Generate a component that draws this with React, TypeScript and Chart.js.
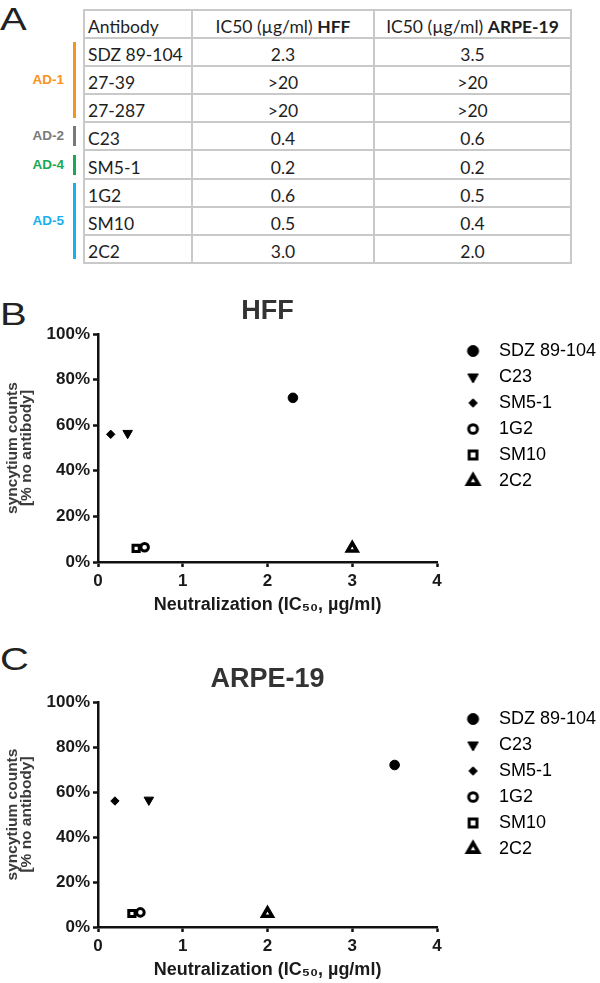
import React, { useEffect, useRef } from 'react';
import { Chart, registerables } from 'chart.js';
import { drawPoint } from 'chart.js/helpers';

Chart.register(...registerables);

// ---------- Panel A table data ----------
const antibodies = ['SDZ 89-104', '27-39', '27-287', 'C23', 'SM5-1', '1G2', 'SM10', '2C2'];
const ic50HFF = ['2.3', '>20', '>20', '0.4', '0.2', '0.6', '0.5', '3.0'];
const ic50ARPE = ['3.5', '>20', '>20', '0.6', '0.2', '0.5', '0.4', '2.0'];
const groupLabels = ['AD-1', 'AD-2', 'AD-4', 'AD-5'];
const groupFirstRow = [0, 3, 4, 5];
const groupLastRow = [2, 3, 4, 7];
const groupColors = ['#f7941d', '#7a7a7a', '#1aa855', '#1ab0ec'];

// ---------- Panels B / C data ----------
const seriesLabels = ['SDZ 89-104', 'C23', 'SM5-1', '1G2', 'SM10', '2C2'];
const hffX = [2.3, 0.35, 0.15, 0.55, 0.45, 3.0];
const hffY = [72, 56.5, 56, 6.5, 6, 6];
const arpeX = [3.5, 0.6, 0.2, 0.5, 0.4, 2.0];
const arpeY = [72, 56.5, 56, 6.5, 6, 6];
const xTicks = [0, 1, 2, 3, 4];
const yTicks = [0, 20, 40, 60, 80, 100];

// marker styles (styling only)
const markerStyles = [
  { pointStyle: 'circle', radius: 4.8, rotation: 0, filled: true, borderWidth: 1, legendScale: 1.15 },
  { pointStyle: 'triangle', radius: 5.5, rotation: 180, filled: true, borderWidth: 1, legendScale: 1.1 },
  { pointStyle: 'rectRot', radius: 4.2, rotation: 0, filled: true, borderWidth: 1, legendScale: 1.0 },
  { pointStyle: 'circle', radius: 3.8, rotation: 0, filled: false, borderWidth: 3, legendScale: 1.15 },
  { pointStyle: 'rect', radius: 4.4, rotation: 0, filled: false, borderWidth: 3, legendScale: 1.25 },
  { pointStyle: 'triangle', radius: 5.4, rotation: 0, filled: false, borderWidth: 3.6, legendScale: 1.15 },
];

const FONT = '"Liberation Sans", Arial, sans-serif';

function makeLegendMarker(st: any, offsetX: number) {
  const c = document.createElement('canvas');
  c.width = 40;
  c.height = 20;
  const ctx = c.getContext('2d') as CanvasRenderingContext2D;
  ctx.fillStyle = st.filled ? '#000' : '#fff';
  ctx.strokeStyle = '#000';
  ctx.lineWidth = st.borderWidth;
  drawPoint(ctx, { pointStyle: st.pointStyle, radius: st.radius * st.legendScale, rotation: st.rotation, borderWidth: st.borderWidth }, 20 + offsetX, 10);
  return c;
}

// let the legend box run to the canvas edge so its labels are not clipped
const widenLegend = {
  id: 'widenLegend',
  afterLayout(chart: any) {
    const lg = chart.legend;
    if (lg) {
      lg.right = chart.width;
      lg.width = lg.right - lg.left;
    }
  },
};

function makeConfig(title: string, xs: number[], ys: number[], xScaleHeight: number): any {
  const legendMarkers = markerStyles.map((st) => makeLegendMarker(st, 5.5));
  return {
    type: 'scatter',
    data: {
      datasets: seriesLabels.map((label, i) => {
        const st = markerStyles[i];
        return {
          label,
          data: [{ x: xs[i], y: ys[i] }],
          pointStyle: st.pointStyle,
          pointRadius: st.radius,
          pointRotation: st.rotation,
          pointBackgroundColor: st.filled ? '#000' : '#fff',
          pointBorderColor: '#000',
          pointBorderWidth: st.borderWidth,
        };
      }),
    },
    plugins: [widenLegend],
    options: {
      animation: false,
      responsive: false,
      devicePixelRatio: 1,
      layout: { padding: { left: 0, right: 17.33, top: 0, bottom: 0 } },
      scales: {
        x: {
          type: 'linear',
          min: 0,
          max: 4,
          afterBuildTicks: (s: any) => {
            s.ticks = xTicks.map((v) => ({ value: v }));
          },
          afterFit: (s: any) => {
            s.height = xScaleHeight;
          },
          ticks: {
            font: { family: FONT, size: 17, weight: 'bold' },
            color: '#1a1a1a',
            padding: 4,
            maxRotation: 0,
          },
          grid: { display: true, drawOnChartArea: false, drawTicks: true, tickLength: 5, tickWidth: 2.5, tickColor: '#111' },
          border: { display: true, color: '#111', width: 2.5 },
          title: {
            display: true,
            text: 'Neutralization (IC\u2085\u2080, \u00b5g/ml)',
            font: { family: FONT, size: 18, weight: 'bold' },
            color: '#1a1a1a',
            padding: { top: 0, bottom: 0 },
          },
        },
        y: {
          type: 'linear',
          min: 0,
          max: 100,
          afterBuildTicks: (s: any) => {
            s.ticks = yTicks.map((v) => ({ value: v }));
          },
          afterFit: (s: any) => {
            s.width = 98;
          },
          ticks: {
            font: { family: FONT, size: 17, weight: 'bold' },
            color: '#1a1a1a',
            padding: 3,
            callback: (v: any) => v + '%',
          },
          grid: { display: true, drawOnChartArea: false, drawTicks: true, tickLength: 5, tickWidth: 2.5, tickColor: '#111' },
          border: { display: true, color: '#111', width: 2.5 },
          title: {
            display: true,
            text: ['syncytium counts', '[% no antibody]'],
            font: { family: FONT, size: 15.5, weight: 'bold', lineHeight: '14px' },
            color: '#3a3a3a',
            padding: { top: 6, bottom: 0 },
          },
        },
      },
      plugins: {
        tooltip: { enabled: false },
        title: {
          display: true,
          text: title,
          fullSize: false,
          font: { family: FONT, size: 27, weight: 'bold' },
          color: '#333',
          padding: { top: 15.5, bottom: 6.1 },
        },
        legend: {
          display: true,
          position: 'right',
          align: 'start',
          fullSize: false,
          labels: {
            usePointStyle: true,
            pointStyleWidth: 45,
            padding: 8,
            font: { family: FONT, size: 18 },
            color: '#111',
            generateLabels: (chart: any) =>
              chart.data.datasets.map((ds: any, i: number) => ({
                text: ds.label,
                pointStyle: legendMarkers[i],
                rotation: 0,
                fillStyle: '#000',
                strokeStyle: '#000',
                lineWidth: 0,
                hidden: false,
                datasetIndex: i,
              })),
          },
        },
      },
    },
  };
}

const letterStyle = (top: number): React.CSSProperties => ({
  position: 'absolute',
  left: 0,
  top,
  fontFamily: FONT,
  fontSize: 32,
  lineHeight: '32px',
  color: '#222',
  transform: 'scaleX(1.25)',
  transformOrigin: 'left top',
});

const TABLE_TOP = 10;
const HEADER_H = 27.7;
const ROW_H = 28.2;

export default function App() {
  const refB = useRef<HTMLCanvasElement>(null);
  const refC = useRef<HTMLCanvasElement>(null);

  useEffect(() => {
    const cb = new Chart(refB.current as HTMLCanvasElement, makeConfig('HFF', hffX, hffY, 54));
    const cc = new Chart(refC.current as HTMLCanvasElement, makeConfig('ARPE-19', arpeX, arpeY, 54));
    return () => {
      cb.destroy();
      cc.destroy();
    };
  }, []);

  const cellBase: React.CSSProperties = {
    border: '2px solid #c9c9c9',
    padding: '0 3px',
    verticalAlign: 'bottom',
    fontWeight: 'normal',
    whiteSpace: 'nowrap',
    overflow: 'hidden',
  };

  return (
    <div style={{ position: 'absolute', left: 0, top: 0, width: 600, height: 983, background: '#fff', overflow: 'hidden' }}>
      <div style={letterStyle(2.5)}>A</div>
      <div style={letterStyle(297.5)}>B</div>
      <div style={letterStyle(642.5)}>C</div>

      <table
        style={{
          position: 'absolute',
          left: 83,
          top: TABLE_TOP - 1,
          width: 487,
          borderCollapse: 'collapse',
          tableLayout: 'fixed',
          fontFamily: 'Lato, "Open Sans", sans-serif',
          fontSize: 17.5,
          color: '#1e1e1e',
        }}
      >
        <colgroup>
          <col style={{ width: 108 }} />
          <col style={{ width: 182 }} />
          <col style={{ width: 197 }} />
        </colgroup>
        <thead>
          <tr style={{ height: HEADER_H }}>
            <th style={{ ...cellBase, textAlign: 'left' }}>Antibody</th>
            <th style={{ ...cellBase, textAlign: 'center' }}>
              IC50 (µg/ml) <b style={{ fontWeight: 'bold' }}>HFF</b>
            </th>
            <th style={{ ...cellBase, textAlign: 'center' }}>
              IC50 (µg/ml) <b style={{ fontWeight: 'bold' }}>ARPE-19</b>
            </th>
          </tr>
        </thead>
        <tbody>
          {antibodies.map((ab, i) => (
            <tr key={ab} style={{ height: ROW_H }}>
              <td style={{ ...cellBase, textAlign: 'left' }}>{ab}</td>
              <td style={{ ...cellBase, textAlign: 'center' }}>{ic50HFF[i]}</td>
              <td style={{ ...cellBase, textAlign: 'center' }}>{ic50ARPE[i]}</td>
            </tr>
          ))}
        </tbody>
      </table>

      {groupLabels.map((g, i) => {
        const top = TABLE_TOP + HEADER_H + groupFirstRow[i] * ROW_H + 4;
        const bottom = TABLE_TOP + HEADER_H + (groupLastRow[i] + 1) * ROW_H - 4;
        const mid = (top + bottom) / 2;
        return (
          <React.Fragment key={g}>
            <div style={{ position: 'absolute', left: 73, top, width: 3, height: bottom - top, background: groupColors[i] }} />
            <div
              style={{
                position: 'absolute',
                left: 0,
                width: 64,
                top: mid - 8,
                height: 16,
                lineHeight: '16px',
                textAlign: 'right',
                fontFamily: FONT,
                fontWeight: 'bold',
                fontSize: 13.5,
                color: groupColors[i],
              }}
            >
              {g}
            </div>
          </React.Fragment>
        );
      })}

      <canvas ref={refB} width={600} height={336} style={{ position: 'absolute', left: 0, top: 280, width: 600, height: 336 }} />
      <canvas ref={refC} width={600} height={333} style={{ position: 'absolute', left: 0, top: 648, width: 600, height: 333 }} />
    </div>
  );
}
